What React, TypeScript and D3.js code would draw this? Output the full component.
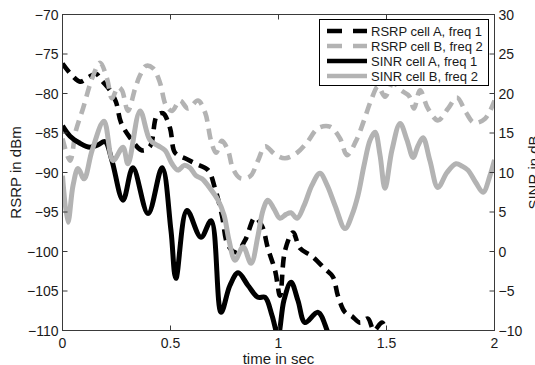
import React from 'react';
import * as d3 from 'd3';

const W = 535;
const H = 365;

const xTicks = [0, 0.5, 1, 1.5, 2];
const rsrpTicks = [-110, -105, -100, -95, -90, -85, -80, -75, -70];
const sinrTicks = [-10, -5, 0, 5, 10, 15, 20, 25, 30];
const legendLabels = ['RSRP cell A, freq 1', 'RSRP cell B, freq 2', 'SINR cell A, freq 1', 'SINR cell B, freq 2'];

// RSRP cell A, freq 1 (dBm, left axis)
const rsrpA_t = [0, 0.044, 0.081, 0.118, 0.155, 0.183, 0.22, 0.248, 0.271, 0.313, 0.368, 0.405, 0.437, 0.465, 0.498, 0.521, 0.567, 0.618, 0.674, 0.706, 0.738, 0.766, 0.803, 0.845, 0.891, 0.924, 0.951, 0.984, 1.007, 1.03, 1.067, 1.1, 1.155, 1.215, 1.252, 1.275, 1.308, 1.34, 1.377, 1.414, 1.442, 1.479, 1.507, 1.56];
const rsrpA_v = [-76.2, -77.7, -78.5, -78.0, -77.5, -78.4, -79.6, -81.1, -83.7, -85.6, -87.2, -86.7, -82.8, -82.5, -84.4, -87.5, -88.2, -88.9, -89.7, -92.0, -95.4, -99.2, -100.1, -98.6, -95.7, -96.8, -99.6, -102.4, -105.6, -99.9, -97.6, -99.6, -100.6, -102.2, -103.2, -105.6, -107.7, -108.2, -109.0, -108.5, -110.0, -109.0, -110.5, -112];

// RSRP cell B, freq 2 (dBm, left axis)
const rsrpB_t = [0, 0.035, 0.062, 0.095, 0.137, 0.174, 0.206, 0.229, 0.257, 0.275, 0.303, 0.336, 0.359, 0.387, 0.419, 0.451, 0.479, 0.507, 0.544, 0.581, 0.627, 0.66, 0.688, 0.711, 0.738, 0.766, 0.789, 0.822, 0.868, 0.905, 0.938, 0.984, 1.03, 1.086, 1.132, 1.183, 1.238, 1.285, 1.317, 1.359, 1.396, 1.428, 1.461, 1.493, 1.53, 1.567, 1.604, 1.627, 1.655, 1.692, 1.738, 1.785, 1.826, 1.868, 1.905, 1.956, 2.0];
const rsrpB_v = [-85.7, -88.5, -84.7, -81.9, -78.1, -76.1, -78.1, -80.6, -79.2, -79.6, -82.2, -79.4, -77.7, -76.5, -76.8, -78.6, -81.5, -82.2, -80.9, -81.9, -80.9, -82.4, -86.0, -87.5, -86.0, -87.2, -89.5, -90.7, -90.5, -88.5, -86.7, -87.7, -88.2, -87.5, -86.2, -84.4, -84.2, -85.7, -87.8, -86.0, -83.4, -80.9, -79.1, -80.4, -78.6, -79.6, -80.3, -81.9, -79.6, -81.9, -83.4, -81.9, -80.5, -82.4, -83.7, -83.2, -80.9];

// SINR cell A, freq 1 (dB, right axis)
const sinrA_t = [0, 0.035, 0.081, 0.127, 0.164, 0.197, 0.229, 0.28, 0.326, 0.396, 0.461, 0.502, 0.525, 0.576, 0.641, 0.688, 0.734, 0.775, 0.813, 0.859, 0.905, 0.938, 0.97, 0.998, 1.025, 1.058, 1.09, 1.123, 1.183, 1.238, 1.285];
const sinrA_v = [15.9, 14.6, 13.7, 13.2, 13.5, 13.9, 11.5, 6.5, 10.6, 4.8, 10.6, 2.7, -3.4, 5.2, 1.8, 3.9, -7.7, -4.3, -2.7, -4.3, -5.8, -5.8, -8.1, -10.6, -6.2, -3.9, -6.2, -9.0, -7.7, -10.8, -12.5];

// SINR cell B, freq 2 (dB, right axis)
const sinrB_t = [0, 0.025, 0.049, 0.072, 0.1, 0.137, 0.192, 0.234, 0.28, 0.303, 0.359, 0.405, 0.442, 0.475, 0.507, 0.535, 0.563, 0.59, 0.618, 0.646, 0.683, 0.72, 0.748, 0.771, 0.799, 0.836, 0.873, 0.905, 0.928, 0.951, 0.979, 1.007, 1.035, 1.058, 1.086, 1.118, 1.155, 1.192, 1.225, 1.262, 1.308, 1.34, 1.368, 1.396, 1.424, 1.447, 1.47, 1.493, 1.525, 1.563, 1.595, 1.623, 1.646, 1.669, 1.701, 1.738, 1.78, 1.822, 1.85, 1.877, 1.914, 1.947, 1.979, 2.0];
const sinrB_v = [9.6, 3.7, 8.4, 10.5, 9.2, 12.8, 16.5, 11.5, 13.2, 11.1, 17.8, 14.1, 13.4, 12.8, 11.1, 10.3, 10.9, 10.6, 9.6, 9.2, 8.0, 6.5, 4.6, 1.4, -1.1, 0.6, -1.5, 2.0, 5.2, 6.5, 5.4, 4.2, 4.7, 4.9, 4.2, 5.8, 8.4, 9.9, 8.4, 5.8, 2.9, 4.6, 7.1, 10.9, 14.1, 15.1, 12.2, 8.0, 12.8, 16.2, 14.1, 11.9, 13.4, 14.4, 11.5, 8.1, 10.0, 11.1, 10.8, 10.3, 8.7, 7.5, 9.6, 11.6];

const BLACK = '#000000';
const GRAY = '#b3b3b3';
const AXIS = '#3a3a3a';
const TEXT = '#1a1a1a';
const FONT = '"Liberation Sans", Arial, Helvetica, sans-serif';

export default function App() {
  const left = 62.5, right = 494.5, top = 14.5, bottom = 330.5;
  const x = d3.scaleLinear().domain([0, 2]).range([left, right]);
  const yL = d3.scaleLinear().domain([-110, -70]).range([bottom, top]);
  const yR = d3.scaleLinear().domain([-10, 30]).range([bottom, top]);
  const fmtY = d3.format('d');
  const fmtX = d3.format('');

  const mk = (ts: number[], vs: number[], y: d3.ScaleLinear<number, number>) =>
    d3.line<number>()
      .x((_, i) => x(ts[i]))
      .y((d) => y(d))
      .curve(d3.curveCatmullRom.alpha(0.5))(vs) || '';

  const series = [
    { d: mk(rsrpA_t, rsrpA_v, yL), color: BLACK, dash: '11,7', w: 4.6 },
    { d: mk(rsrpB_t, rsrpB_v, yL), color: GRAY, dash: '11,7', w: 4.6 },
    { d: mk(sinrA_t, sinrA_v, yR), color: BLACK, dash: '', w: 5 },
    { d: mk(sinrB_t, sinrB_v, yR), color: GRAY, dash: '', w: 5 },
  ];

  const tickLen = 5;
  const legX = 319.5, legY = 19.5, legW = 169, legH = 66;
  const rowY = [31, 46, 61, 76];

  return (
    <svg width={W} height={H} style={{ position: 'absolute', left: 0, top: 0, background: '#fff' }} fontFamily={FONT}>
      <defs>
        <clipPath id="plotclip">
          <rect x={left} y={top} width={right - left} height={bottom - top} />
        </clipPath>
      </defs>
      <rect x={0} y={0} width={W} height={H} fill="#fff" />
      <g clipPath="url(#plotclip)">
        {series.map((s, i) => (
          <path key={i} d={s.d} fill="none" stroke={s.color} strokeWidth={s.w}
            strokeDasharray={s.dash || undefined} strokeLinejoin="round" />
        ))}
      </g>
      <rect x={left} y={top} width={right - left} height={bottom - top} fill="none" stroke={AXIS} strokeWidth={1} />
      {rsrpTicks.map((t) => (
        <g key={'l' + t}>
          <line x1={left} x2={left + tickLen} y1={yL(t)} y2={yL(t)} stroke={AXIS} />
          <text x={left - 4} y={yL(t)} textAnchor="end" dominantBaseline="central" fontSize={14} fill={TEXT}>{fmtY(t)}</text>
        </g>
      ))}
      {sinrTicks.map((t) => (
        <g key={'r' + t}>
          <line x1={right} x2={right - tickLen} y1={yR(t)} y2={yR(t)} stroke={AXIS} />
          <text x={right + 4} y={yR(t)} textAnchor="start" dominantBaseline="central" fontSize={14} fill={TEXT}>{fmtY(t)}</text>
        </g>
      ))}
      {xTicks.map((t) => (
        <g key={'x' + t}>
          <line x1={x(t)} x2={x(t)} y1={bottom} y2={bottom - tickLen} stroke={AXIS} />
          <line x1={x(t)} x2={x(t)} y1={top} y2={top + tickLen} stroke={AXIS} />
          <text x={x(t)} y={bottom + 12} textAnchor="middle" dominantBaseline="central" fontSize={14} fill={TEXT}>{fmtX(t)}</text>
        </g>
      ))}
      <text x={(left + right) / 2} y={358} textAnchor="middle" dominantBaseline="central" fontSize={15} fill={TEXT}>time in sec</text>
      <text transform={`translate(21,${(top + bottom) / 2}) rotate(-90)`} textAnchor="middle" fontSize={15} fill={TEXT}>RSRP in dBm</text>
      <text transform={`translate(539,${(top + bottom) / 2}) rotate(-90)`} textAnchor="middle" fontSize={15} fill={TEXT}>SINR in dB</text>
      <rect x={legX} y={legY} width={legW} height={legH} fill="#fff" stroke="#000" strokeWidth={1} />
      {legendLabels.map((lab, i) => (
        <g key={lab}>
          <line x1={327} x2={367} y1={rowY[i]} y2={rowY[i]} stroke={series[i].color} strokeWidth={4.6}
            strokeDasharray={series[i].dash ? '15,11' : undefined} />
          <text x={371} y={rowY[i]} dominantBaseline="central" fontSize={13} fill={TEXT}>{lab}</text>
        </g>
      ))}
    </svg>
  );
}
